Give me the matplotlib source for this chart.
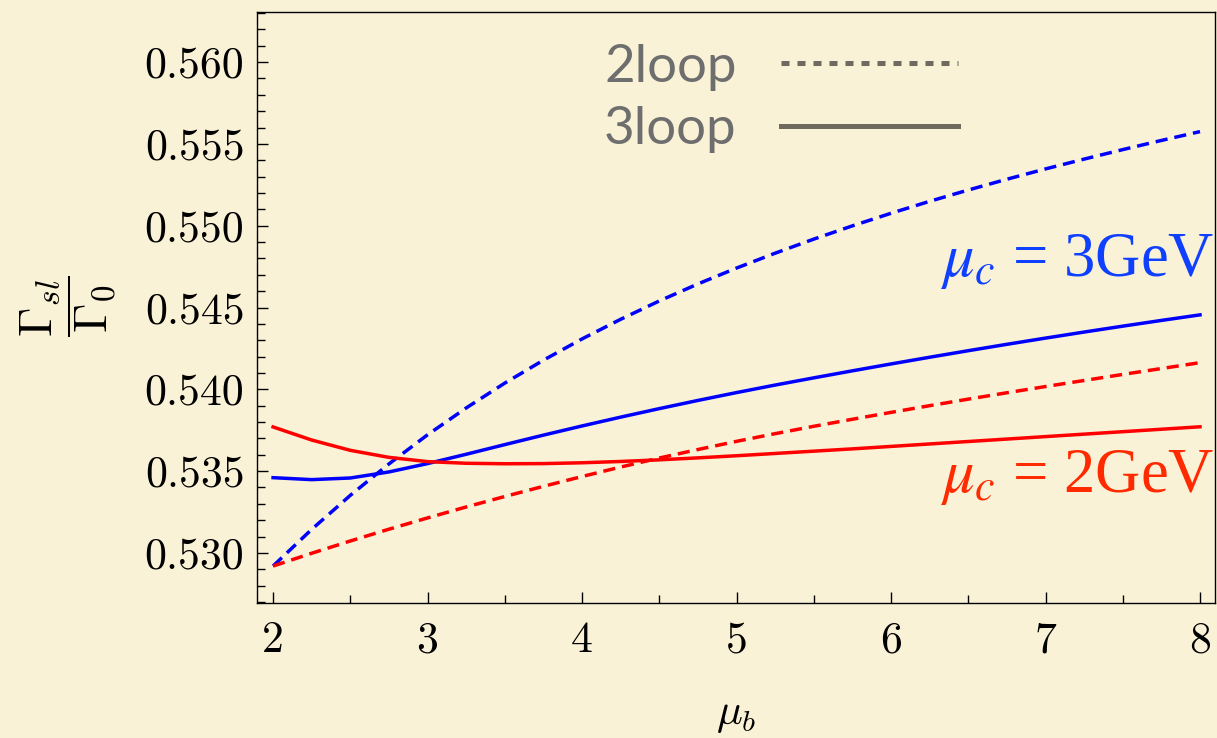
import matplotlib
matplotlib.use("Agg")
import matplotlib.pyplot as plt
from matplotlib.lines import Line2D
from matplotlib.ticker import FormatStrFormatter, MultipleLocator

mu_b = [2.00, 2.25, 2.50, 2.75, 3.00, 3.25, 3.50, 3.75, 4.00, 4.25, 4.50, 4.75, 5.00,
        5.25, 5.50, 5.75, 6.00, 6.25, 6.50, 6.75, 7.00, 7.25, 7.50, 7.75, 8.00]

# mu_c = 3 GeV
blue_2loop = [0.52920, 0.53144, 0.53352, 0.53544, 0.53722, 0.53886, 0.54038, 0.54178, 0.54308,
              0.54428, 0.54540, 0.54644, 0.54741, 0.54832, 0.54918, 0.54999, 0.55076, 0.55149,
              0.55218, 0.55284, 0.55347, 0.55407, 0.55465, 0.55521, 0.55575]
blue_3loop = [0.53460, 0.53448, 0.53458, 0.53495, 0.53546, 0.53603, 0.53662, 0.53720, 0.53776,
              0.53830, 0.53882, 0.53932, 0.53980, 0.54026, 0.54070, 0.54113, 0.54155, 0.54196,
              0.54236, 0.54275, 0.54313, 0.54350, 0.54386, 0.54421, 0.54455]
# mu_c = 2 GeV
red_2loop = [0.52920, 0.52998, 0.53073, 0.53145, 0.53214, 0.53281, 0.53345, 0.53407, 0.53467,
             0.53525, 0.53580, 0.53632, 0.53682, 0.53729, 0.53774, 0.53817, 0.53859, 0.53900,
             0.53940, 0.53979, 0.54017, 0.54054, 0.54091, 0.54127, 0.54163]
red_3loop = [0.53770, 0.53690, 0.53627, 0.53584, 0.53558, 0.53548, 0.53545, 0.53546, 0.53551,
             0.53559, 0.53569, 0.53581, 0.53594, 0.53608, 0.53622, 0.53636, 0.53651, 0.53666,
             0.53681, 0.53696, 0.53711, 0.53726, 0.53741, 0.53756, 0.53771]

legend_labels = ["2loop", "3loop"]

plt.rcParams["font.family"] = "serif"
plt.rcParams["font.serif"] = ["cmr10", "DejaVu Serif"]
plt.rcParams["mathtext.fontset"] = "cm"
plt.rcParams["axes.unicode_minus"] = False

bg = "#faf2d6"
fig = plt.figure(figsize=(12.17, 7.38), dpi=100, facecolor=bg)
ax = fig.add_axes([257 / 1217, 1 - 603 / 738, (1215 - 257) / 1217, (603 - 12) / 738])
ax.set_facecolor(bg)

lw = 2.5
dash = (3.5, 2.0)
ax.plot(mu_b, blue_2loop, color="#0000ff", lw=lw, dashes=dash)
ax.plot(mu_b, blue_3loop, color="#0000ff", lw=lw)
ax.plot(mu_b, red_2loop, color="#ff0000", lw=lw, dashes=dash)
ax.plot(mu_b, red_3loop, color="#ff0000", lw=lw)

ax.set_xlim(1.896, 8.097)
ax.set_ylim(0.52694, 0.56306)
ax.xaxis.set_major_locator(MultipleLocator(1))
ax.xaxis.set_minor_locator(MultipleLocator(0.5))
ax.yaxis.set_major_locator(MultipleLocator(0.005))
ax.yaxis.set_minor_locator(MultipleLocator(0.001))
ax.yaxis.set_major_formatter(FormatStrFormatter("%.3f"))
ax.tick_params(which="both", direction="in", top=False, right=False, labelsize=31.5)
ax.tick_params(which="major", length=8, width=1)
ax.tick_params(which="minor", length=6, width=1)
ax.tick_params(axis="x", pad=13)
ax.tick_params(axis="y", pad=9)
for s in ax.spines.values():
    s.set_linewidth(1.0)

ax.set_xlabel(r"$\mu_b$", fontsize=31)
ax.xaxis.set_label_coords(0.5, -0.16)
fig.text(68 / 1217, 1 - 306 / 738, r"$\dfrac{\Gamma_{sl}}{\Gamma_0}$", fontsize=34,
         rotation=90, ha="center", va="center")

ax.text(8.09, 0.5478, r"$\mu_c$ = 3GeV", color="#1040ff", fontsize=45,
        family="Liberation Serif", math_fontfamily="stix", ha="right", va="center")
ax.text(8.09, 0.5346, r"$\mu_c$ = 2GeV", color="#ff2a00", fontsize=45,
        family="Liberation Serif", math_fontfamily="stix", ha="right", va="center")

handles = [
    Line2D([], [], color="#6e6a5e", lw=3.6, dashes=(1.6, 1.6)),
    Line2D([], [], color="#6e6a5e", lw=3.6),
]
leg = ax.legend(handles, legend_labels, loc="upper center", bbox_to_anchor=(0.547, 1.027),
                markerfirst=False, frameon=False, handlelength=3.35, handletextpad=0.85,
                labelspacing=0.3, prop={"family": "Lato", "size": 38})
for t in leg.get_texts():
    t.set_color("#6e6e6e")

fig.savefig("out.png", dpi=100, facecolor=bg)
